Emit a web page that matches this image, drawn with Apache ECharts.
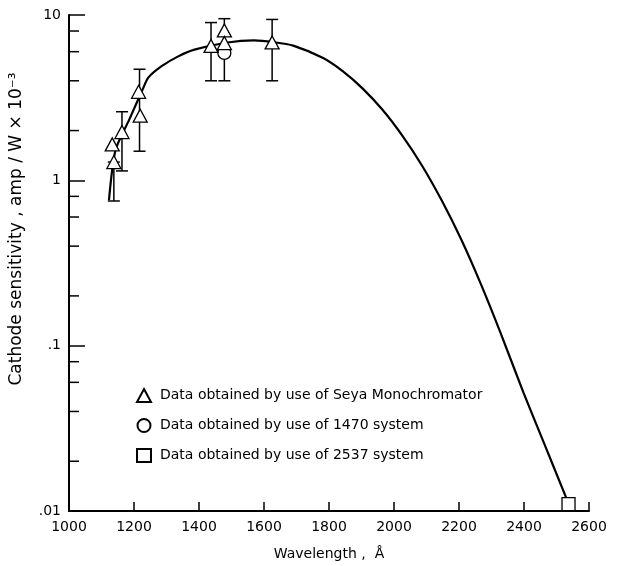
<!DOCTYPE html>
<html>
<head>
<meta charset="utf-8">
<script src="https://cdn.jsdelivr.net/npm/echarts@6/dist/echarts.min.js"></script>
<style>
  html, body { margin: 0; padding: 0; background: #fff; }
  #main { width: 623px; height: 566px; }
</style>
</head>
<body>
<div id="main"></div>
<script>
// fitted sensitivity curve, [wavelength, sensitivity]
var curveData = [
  [1123, 0.76], [1143, 1.52], [1185, 2.32], [1227, 3.56], [1244, 4.18],
  [1285, 4.9], [1336, 5.62], [1386, 6.17], [1488, 6.82], [1569, 7.02],
  [1630, 6.85], [1690, 6.53], [1782, 5.49], [1843, 4.56], [1903, 3.6],
  [1964, 2.68], [2025, 1.87], [2086, 1.23], [2147, 0.754], [2208, 0.434],
  [2268, 0.234], [2329, 0.118], [2399, 0.0516], [2466, 0.0245], [2530, 0.012]
];
// Seya monochromator points
var seyaData = [
  [1133, 1.65], [1138, 1.29], [1163, 1.96], [1214, 3.43], [1219, 2.46],
  [1437, 6.5], [1478, 8.06], [1478, 6.77], [1625, 6.82]
];
var sys1470Data = [[1478, 5.9]];
var sys2537Data = [[2537, 0.011]];
// error bars: [wavelength, low, high]
var errorBars = [
  [1138, 0.75, 1.29], [1163, 1.14, 2.6], [1217, 1.5, 4.7],
  [1437, 4.0, 9.0], [1478, 4.0, 9.5], [1625, 4.0, 9.4]
];
var minorTicks = [8, 6, 4, 2, 0.8, 0.6, 0.4, 0.2, 0.08, 0.06, 0.04, 0.02];
var yLabels = { '10': '10', '1': '1', '0.1': '.1', '0.01': '.01' };

var font = 'DejaVu Sans';
var chart = echarts.init(document.getElementById('main'));

var option = {
  animation: false,
  backgroundColor: '#fff',
  grid: { left: 63, right: 34, top: 15, bottom: 50 },
  legend: {
    orient: 'vertical',
    left: 131,
    top: 383,
    itemWidth: 14,
    itemHeight: 13,
    itemGap: 15,
    data: ['Data obtained by use of Seya Monochromator', 'Data obtained by use of 1470 system', 'Data obtained by use of 2537 system'],
    textStyle: { fontFamily: font, fontSize: 14, color: '#000', padding: [0, 0, 0, 4] }
  },
  xAxis: {
    type: 'value',
    min: 1000,
    max: 2600,
    interval: 200,
    name: 'Wavelength ,  Å',
    nameLocation: 'middle',
    nameGap: 36,
    nameTextStyle: { fontFamily: font, fontSize: 14, color: '#000' },
    axisLine: { lineStyle: { color: '#000', width: 2 } },
    axisTick: { inside: true, length: 9, lineStyle: { color: '#000', width: 1.5 } },
    axisLabel: {
      fontFamily: font, fontSize: 14, color: '#000', margin: 9,
      formatter: function (v) { return String(v); }
    },
    splitLine: { show: false }
  },
  yAxis: {
    type: 'log',
    logBase: 10,
    min: 0.01,
    max: 10,
    name: 'Cathode sensitivity , amp / W × 10⁻³',
    nameLocation: 'middle',
    nameGap: 44,
    nameTextStyle: { fontFamily: font, fontSize: 17, color: '#000', padding: [0, 0, 0, 68] },
    axisLine: { lineStyle: { color: '#000', width: 2 } },
    axisTick: { inside: true, length: 16, lineStyle: { color: '#000', width: 1.5 } },
    axisLabel: {
      fontFamily: font, fontSize: 14, color: '#000', margin: 8,
      formatter: function (v) { return yLabels[String(+v.toPrecision(3))] || ''; }
    },
    splitLine: { show: false }
  },
  series: [
    {
      name: 'minor',
      type: 'custom',
      silent: true,
      data: minorTicks,
      renderItem: function (params, api) {
        var y = api.coord([1000, api.value(0)])[1];
        var x = params.coordSys.x;
        return {
          type: 'line',
          shape: { x1: x, y1: y, x2: x + 10, y2: y },
          style: { stroke: '#000', lineWidth: 1.5 }
        };
      },
      encode: { y: 0 },
      z: 1
    },
    {
      name: 'curve',
      type: 'line',
      data: curveData,
      smooth: 0.25,
      showSymbol: false,
      symbol: 'none',
      lineStyle: { color: '#000', width: 2.2 },
      z: 2
    },
    {
      name: 'errors',
      type: 'custom',
      data: errorBars,
      encode: { x: 0, y: [1, 2] },
      renderItem: function (params, api) {
        var lo = api.coord([api.value(0), api.value(1)]);
        var hi = api.coord([api.value(0), api.value(2)]);
        var w = 6;
        var st = { stroke: '#000', lineWidth: 1.5 };
        return {
          type: 'group',
          children: [
            { type: 'line', shape: { x1: lo[0], y1: lo[1], x2: hi[0], y2: hi[1] }, style: st },
            { type: 'line', shape: { x1: lo[0] - w, y1: lo[1], x2: lo[0] + w, y2: lo[1] }, style: st },
            { type: 'line', shape: { x1: hi[0] - w, y1: hi[1], x2: hi[0] + w, y2: hi[1] }, style: st }
          ]
        };
      },
      z: 3
    },
    {
      name: 'Data obtained by use of 1470 system',
      type: 'scatter',
      symbol: 'circle',
      symbolSize: 13,
      data: sys1470Data,
      itemStyle: { color: '#fff', borderColor: '#000', borderWidth: 1.3, opacity: 1 },
      z: 4
    },
    {
      name: 'Data obtained by use of Seya Monochromator',
      type: 'scatter',
      symbol: 'triangle',
      symbolSize: [14, 13],
      data: seyaData,
      itemStyle: { color: '#fff', borderColor: '#000', borderWidth: 1.3, opacity: 1 },
      z: 5
    },
    {
      name: 'Data obtained by use of 2537 system',
      type: 'scatter',
      symbol: 'rect',
      symbolSize: 13,
      data: sys2537Data,
      itemStyle: { color: '#fff', borderColor: '#000', borderWidth: 1.3, opacity: 1 },
      z: 5
    }
  ]
};
chart.setOption(option);
</script>
</body>
</html>
